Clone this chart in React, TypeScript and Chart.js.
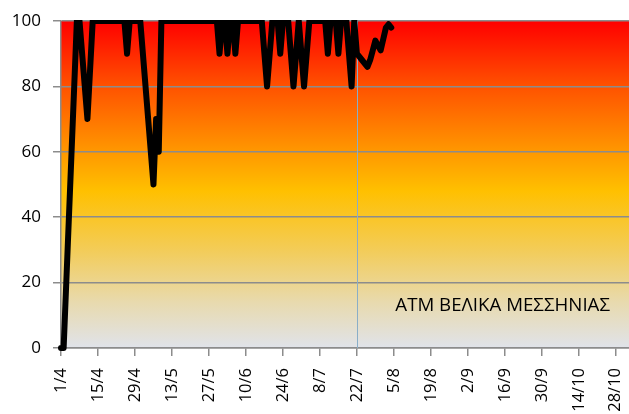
import React, { useEffect, useRef } from 'react';
import { Chart, registerables } from 'chart.js';

Chart.register(...registerables);

// ---- data ----
const YEAR = 2015;
const START_MONTH = 4;
const START_DAY = 1;
const DAY_COUNT = 216; // 1/4 .. 2/11
const TICK_EVERY = 14;
const MARKER_DATE = '22/7';
const SERIES_LABEL = 'ΑΤΜ ΒΕΛΙΚΑ ΜΕΣΣΗΝΙΑΣ';
const Y_MIN = 0;
const Y_MAX = 100;
const Y_STEP = 20;

const categories: string[] = [];
for (let i = 0; i < DAY_COUNT; i++) {
  const d = new Date(YEAR, START_MONTH - 1, START_DAY + i);
  categories.push(`${d.getDate()}/${d.getMonth() + 1}`);
}

const values: (number | null)[] = [
  0, 0, null, null, null, null, 100, 100, null, null,
  70, null, 100, 100, 100, 100, 100, 100, 100, 100,
  100, 100, 100, 100, 100, 90, 100, 100, 100, 100,
  100, null, null, null, null, 50, 70, 60, 100, 100,
  100, 100, 100, 100, 100, 100, 100, 100, 100, 100,
  100, 100, 100, 100, 100, 100, 100, 100, 100, 100,
  90, 100, 100, 90, 100, 100, 90, 100, 100, 100,
  100, 100, 100, 100, 100, 100, 100, null, 80, null,
  100, 100, 100, 90, 100, 100, 100, null, 80, null,
  100, null, 80, null, 100, 100, 100, 100, 100, 100,
  100, 90, 100, 100, 100, 90, 100, 100, 100, null,
  80, 100, 90, 89, 88, null, 86, 88, 91, 94,
  null, 91, null, 98, 99, 98,
];

const FONT = '"Open Sans", "DejaVu Sans", sans-serif';
const GRID = '#8c8c8c';

const bgPlugin = {
  id: 'bgGradient',
  beforeDraw(chart: any) {
    const { ctx, chartArea: a } = chart;
    if (!a) return;
    const g = ctx.createLinearGradient(0, a.top, 0, a.bottom);
    g.addColorStop(0, '#ff0000');
    g.addColorStop(0.2, '#ff5200');
    g.addColorStop(0.4, '#ff9800');
    g.addColorStop(0.52, '#ffc000');
    g.addColorStop(0.7, '#f3cc58');
    g.addColorStop(0.86, '#e8daae');
    g.addColorStop(1, '#e0e3ea');
    ctx.save();
    ctx.fillStyle = g;
    ctx.fillRect(a.left, a.top, a.right - a.left, a.bottom - a.top);
    ctx.restore();
  },
  beforeDatasetsDraw(chart: any) {
    const { ctx, chartArea: a } = chart;
    const x = chart.scales.x.getPixelForValue(categories.indexOf(MARKER_DATE));
    ctx.save();
    ctx.strokeStyle = '#8aaec8';
    ctx.lineWidth = 1;
    ctx.beginPath();
    ctx.moveTo(Math.round(x) + 0.5, a.top);
    ctx.lineTo(Math.round(x) + 0.5, a.bottom);
    ctx.stroke();
    ctx.restore();
  },
  afterDraw(chart: any) {
    const { ctx, chartArea: a } = chart;
    ctx.save();
    ctx.font = `18.7px ${FONT}`;
    ctx.fillStyle = '#000';
    ctx.textAlign = 'right';
    ctx.textBaseline = 'alphabetic';
    ctx.fillText(SERIES_LABEL, a.right - 19, a.bottom - 37);
    ctx.restore();
  },
};

export default function App() {
  const ref = useRef<HTMLCanvasElement | null>(null);
  useEffect(() => {
    if (!ref.current) return;
    const chart = new Chart(ref.current, {
      type: 'line',
      data: {
        labels: categories,
        datasets: [
          {
            label: SERIES_LABEL,
            data: values,
            borderColor: '#000',
            borderWidth: 6,
            borderJoinStyle: 'round',
            borderCapStyle: 'round',
            pointRadius: 0,
            tension: 0,
            spanGaps: true,
            fill: false,
            clip: { left: 6, top: 1, right: 6, bottom: 6 } as any,
          },
        ],
      },
      options: {
        animation: false,
        responsive: true,
        maintainAspectRatio: false,
        layout: { padding: { left: 0, top: 21, right: 0, bottom: 0 } },
        plugins: { legend: { display: false }, tooltip: { enabled: false } },
        scales: {
          x: {
            type: 'category',
            afterFit: (s: any) => { s.height = 66; s.paddingRight = 0; s.paddingLeft = 0; },
            grid: {
              drawOnChartArea: false,
              drawTicks: true,
              tickLength: 8,
              tickColor: (c: any) => (c.index % TICK_EVERY === 0 ? GRID : 'rgba(0,0,0,0)'),
              lineWidth: 1.5,
            },
            border: { color: GRID, width: 1.5 },
            ticks: {
              autoSkip: false,
              minRotation: 90,
              maxRotation: 90,
              padding: 12,
              color: '#000',
              font: { family: FONT, size: 16.5 },
              callback: (_v: any, i: number) => (i % TICK_EVERY === 0 ? categories[i] : ''),
            },
          },
          y: {
            min: Y_MIN,
            max: Y_MAX,
            afterFit: (s: any) => { s.width = 61; s.paddingTop = 0; s.paddingBottom = 0; },
            grid: { color: GRID, lineWidth: 1.5, tickLength: 8, tickColor: GRID },
            border: { color: GRID, width: 1.5 },
            ticks: {
              stepSize: Y_STEP,
              padding: 12,
              color: '#000',
              font: { family: FONT, size: 17 },
            },
          },
        },
      },
      plugins: [bgPlugin],
    });
    return () => chart.destroy();
  }, []);
  return (
    <div style={{ position: 'absolute', left: 0, top: 0, width: 629, height: 414 }}>
      <canvas ref={ref} />
    </div>
  );
}
